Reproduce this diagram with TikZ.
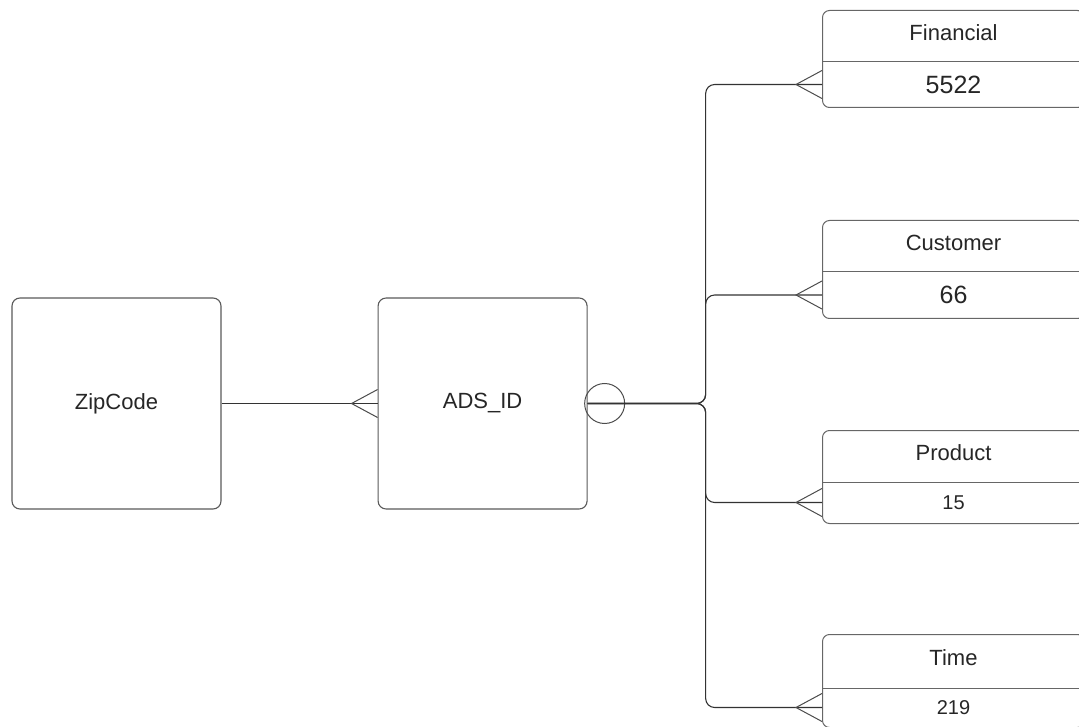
\documentclass[tikz,border=0pt]{standalone}
\usepackage{fontspec}
\setmainfont{Liberation Sans}
\usetikzlibrary{positioning, calc}
\tikzset{
    caixa/.style  = {draw=black!65, rounded corners=8pt, line width=1.1pt,
                     minimum width=209pt, minimum height=211pt,
                     font=\fontsize{22}{26}\selectfont, text=black!85},
    tabela/.style = {draw=black!60, rounded corners=7pt, line width=1pt,
                     minimum width=262pt, anchor=north west},
    cab/.style    = {font=\fontsize{22}{26}\selectfont, text=black!85},
    lig/.style    = {draw=black!80, line width=1.1pt},
    pe/.style     = {draw=black!70, line width=1pt},
}

\begin{document}
\begin{tikzpicture}[x=1pt, y=-1pt]
    \useasboundingbox (0,0) rectangle (1079,727);
    % entidades principais
    \node[caixa] (zip) at (116.5,403.5) {ZipCode};
    \node[caixa, right=156pt of zip] (ads) {ADS\_ID};
    % zip -> ads (muitos)
    \draw[lig] (zip.east) -- (ads.west);
    \draw[pe] ($(ads.west)+(0,-14)$) -- ($(ads.west)+(-26,0)$) -- ($(ads.west)+(0,14)$);
    % circulo opcional
    \node[circle, draw=black!70, line width=1pt, minimum size=40pt, inner sep=0pt]
        (opc) at ($(ads.east)+(17,0)$) {};
    % tabelas da direita
    \foreach \nome/\lbl/\val/\ytop/\alt/\div/\vsz in {
        fin/Financial/5522/10/97/52/25,
        cli/Customer/66/220/98/52/25,
        prd/Product/15/430/93/52/20,
        tmp/Time/219/634/93/54/20}{
        \node[tabela, minimum height=\alt pt] (\nome) at (822,\ytop) {};
        \draw[draw=black!60, line width=1pt] ($(\nome.north west)+(0,\div)$) -- ($(\nome.north east)+(0,\div)$);
        \node[cab] (\nome-cab) at ($(\nome.north)+(0,\div/2-3)$) {\lbl};
        \node[font=\fontsize{\vsz}{\vsz}\selectfont, text=black!85] (\nome-val)
            at ($(\nome.north)+(0,\div/2+\alt/2)$) {\val};
        % ligacao ads -> tabela
        \draw[lig, rounded corners=9pt] (ads.east) -- ++(118,0) |- (\nome-val -| \nome.west);
        \draw[pe] ($(\nome-val -| \nome.west)+(0,-14)$) -- ($(\nome-val -| \nome.west)+(-26,0)$)
            -- ($(\nome-val -| \nome.west)+(0,14)$);
    }
\end{tikzpicture}
\end{document}
